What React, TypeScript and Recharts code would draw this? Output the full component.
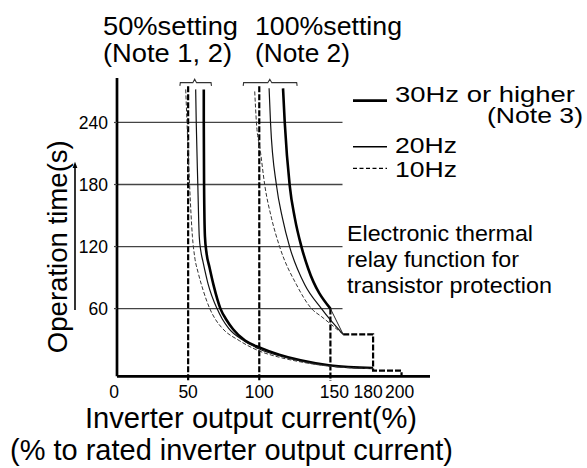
import React from 'react';
import { LineChart, Line, XAxis, YAxis, ReferenceLine } from 'recharts';

const FONT = '"Liberation Sans", Arial, Helvetica, sans-serif';

// Axis ticks
const xTicks = [0, 50, 100, 150, 180, 200];
const yTicks = [60, 120, 180, 240];
const gridValues = [60, 120, 180, 240];
const gridEnd = 158.5;

// 50% setting curves (x = output current %, y = operation time s)
const set50Hz30: [number, number][] = [
  [61, 272], [61, 240], [61.2, 180], [61.8, 130], [63, 113], [65, 100], [68, 82],
  [72.7, 60], [77, 49], [81.6, 40], [90, 29], [100, 22.5], [114, 15.5], [129, 10],
  [150, 5], [180, 2.5],
];
const set50Hz20: [number, number][] = [
  [55.3, 272], [55.7, 240], [56.8, 180], [57.8, 130], [59, 115], [60.5, 105], [64, 84],
  [70.3, 60], [74, 50], [78.5, 41], [88, 30], [100, 21], [114, 14.5], [129, 9.5],
  [150, 4.5], [180, 2.2],
];
const set50Hz10: [number, number][] = [
  [48.3, 272], [49.2, 240], [51, 180], [53, 130], [54.6, 110], [57, 95], [60.5, 78],
  [65.2, 60], [69, 50], [74, 41], [86, 29], [100, 19], [114, 13], [129, 8.5],
  [150, 4.2], [180, 2],
];

// 100% setting curves
const set100Hz30: [number, number][] = [
  [116.7, 273], [117.9, 240], [121.4, 179], [125, 147.5], [129.7, 119.5], [134.3, 99], [150, 60],
];
const set100Hz30Tail: [number, number][] = [[150, 60], [159, 35]];
const set100Hz20: [number, number][] = [
  [106.9, 273], [107.9, 240], [112.1, 179], [116.3, 147.5], [121.4, 119.5], [132, 83],
  [143.7, 60], [150, 49], [159, 35],
];
const set100Hz10: [number, number][] = [
  [96.8, 270], [98, 240], [100.8, 212], [103.9, 179], [108.6, 147.5], [114.4, 119.5],
  [126.2, 83], [136.7, 60], [144, 52], [159, 35],
];

// Transistor protection step
const transistorStep: [number, number][] = [[159, 35], [180, 35], [180, 0], [200, 0], [200, -5.5]];

// Braces above each group
const brace50: [number, number][] = [
  [44.2, 275.4], [44.5, 278.5], [53.3, 278.5], [54.6, 281.8], [55.9, 278.5], [66.1, 278.5], [66.4, 275.4],
];
const brace100: [number, number][] = [
  [88.7, 275.4], [89, 278.5], [106, 278.5], [107.4, 281.8], [108.8, 278.5], [126.3, 278.5], [126.6, 275.4],
];

// Setting lines (vertical dashed)
const settingLines = [
  { x: 50, from: 275, to: -10 },
  { x: 100, from: 275, to: -10 },
  { x: 150, from: 60, to: -10 },
];

const xDomain: [number, number] = [0, 220];
const yDomain: [number, number] = [-10, 283];
const axisY = -5.5;

const xTickNudge: Record<number, number> = { 0: -3, 150: 4, 180: -5, 200: -2 };

const toPts = (arr: [number, number][]) => arr.map(([x, y]) => ({ x, y }));

const XTick = (props: any) => {
  const { x, y, payload } = props;
  const v = payload.value;
  return (
    <text x={x + (xTickNudge[v] ?? 0)} y={y} dy={17} textAnchor="middle" fontSize={17.5} fontFamily={FONT} fill="#000">
      {v}
    </text>
  );
};

const T = ({ x, y, size, len, children, anchor }: any) => (
  <text x={x} y={y} fontSize={size} fontFamily={FONT} fill="#000" textLength={len} lengthAdjust="spacingAndGlyphs" textAnchor={anchor}>
    {children}
  </text>
);

export default function App() {
  const series = [
    { d: set50Hz30, w: 2.6, c: '#000', dash: undefined, t: 'monotone' },
    { d: set50Hz20, w: 1.2, c: '#111', dash: undefined, t: 'monotone' },
    { d: set50Hz10, w: 1.0, c: '#333', dash: '4 2', t: 'monotone' },
    { d: set100Hz30, w: 2.6, c: '#000', dash: undefined, t: 'monotone' },
    { d: set100Hz30Tail, w: 1.0, c: '#222', dash: undefined, t: 'linear' },
    { d: set100Hz20, w: 1.2, c: '#111', dash: undefined, t: 'monotone' },
    { d: set100Hz10, w: 1.0, c: '#333', dash: '4 2', t: 'monotone' },
    { d: transistorStep, w: 2.2, c: '#000', dash: '6 2', t: 'linear' },
    { d: brace50, w: 1.1, c: '#333', dash: undefined, t: 'linear' },
    { d: brace100, w: 1.1, c: '#333', dash: undefined, t: 'linear' },
  ];
  return (
    <div style={{ position: 'absolute', left: 0, top: 0, width: 587, height: 468, background: '#fff' }}>
      <LineChart width={587} height={468} margin={{ top: 78, right: 157, bottom: 0, left: 0 }}>
        <XAxis
          dataKey="x"
          type="number"
          domain={xDomain}
          ticks={xTicks}
          allowDataOverflow
          axisLine={false}
          tickLine={false}
          tickSize={0}
          tickMargin={0}
          height={87}
          tick={<XTick />}
          interval={0}
        />
        <YAxis
          type="number"
          domain={yDomain}
          ticks={yTicks}
          allowDataOverflow
          width={117}
          axisLine={false}
          tickLine={{ stroke: '#444', strokeWidth: 1.2 }}
          tickSize={3}
          tickMargin={6}
          tick={{ fontSize: 17.5, fontFamily: FONT, fill: '#000' }}
          interval={0}
        />
        {gridValues.map((g) => (
          <ReferenceLine key={'g' + g} segment={[{ x: 0, y: g }, { x: gridEnd, y: g }]} stroke="#444" strokeWidth={1.3} ifOverflow="visible" />
        ))}
        <ReferenceLine segment={[{ x: 0, y: axisY }, { x: xDomain[1], y: axisY }]} stroke="#000" strokeWidth={2.7} ifOverflow="visible" />
        <ReferenceLine segment={[{ x: 0, y: axisY }, { x: 0, y: yDomain[1] }]} stroke="#000" strokeWidth={2.7} ifOverflow="visible" />
        {settingLines.map((s) => (
          <ReferenceLine key={'s' + s.x} segment={[{ x: s.x, y: s.from }, { x: s.x, y: s.to }]} stroke="#000" strokeWidth={2.2} strokeDasharray="6 2" ifOverflow="visible" />
        ))}
        {series.map((s, i) => (
          <Line
            key={i}
            data={toPts(s.d)}
            dataKey="y"
            type={s.t as any}
            stroke={s.c}
            strokeWidth={s.w}
            strokeDasharray={s.dash}
            dot={false}
            activeDot={false}
            isAnimationActive={false}
          />
        ))}
      </LineChart>
      <svg width={587} height={468} style={{ position: 'absolute', left: 0, top: 0, pointerEvents: 'none' }}>
        <T x={103} y={35} size={25} len={135}>50%setting</T>
        <T x={103} y={62} size={25} len={129}>(Note 1, 2)</T>
        <T x={255} y={35} size={25} len={147}>100%setting</T>
        <T x={255} y={62} size={25} len={95}>(Note 2)</T>

        <line x1={353} x2={387} y1={100.7} y2={100.7} stroke="#000" strokeWidth={2.7} />
        <T x={395} y={101.5} size={22} len={180}>30Hz or higher</T>
        <T x={487} y={123} size={22} len={96}>(Note 3)</T>
        <line x1={353} x2={387} y1={146.7} y2={146.7} stroke="#000" strokeWidth={1.5} />
        <T x={395} y={152.7} size={22} len={62}>20Hz</T>
        <line x1={353} x2={387} y1={168.3} y2={168.3} stroke="#000" strokeWidth={1.2} strokeDasharray="4 2.5" />
        <T x={395} y={176.7} size={22} len={62}>10Hz</T>

        <T x={347} y={240.7} size={22} len={186}>Electronic thermal</T>
        <T x={347} y={266.7} size={22} len={172}>relay function for</T>
        <T x={347} y={292.7} size={22} len={205}>transistor protection</T>

        <T x={85} y={428.3} size={29} len={332}>Inverter output current(%)</T>
        <T x={10} y={460} size={29} len={443}>(% to rated inverter output current)</T>

        <g transform="rotate(-90, 66.7, 246.7)">
          <T x={66.7} y={246.7} size={28} len={213} anchor="middle">Operation time(s)</T>
        </g>
        <line x1={75} x2={75} y1={310} y2={166} stroke="#000" strokeWidth={1.6} />
        <path d="M 72.6 168 L 75 161.7 L 77.4 168 Z" fill="#000" />
      </svg>
    </div>
  );
}
